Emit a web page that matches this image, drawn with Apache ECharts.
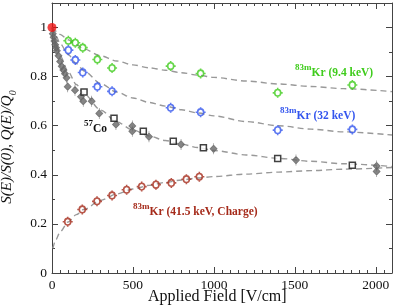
<!DOCTYPE html>
<html><head><meta charset="utf-8">
<script src="https://cdn.jsdelivr.net/npm/echarts@6/dist/echarts.min.js"></script>
<style>html,body{margin:0;padding:0;background:#fff}#c{width:399px;height:308px}</style>
</head><body><div id="c"></div>
<script>
// ---- data ----
const xTickLabels = [0, 500, 1000, 1500, 2000];
const yTickLabels = ['0', '0.2', '0.4', '0.6', '0.8', '1'];
const kr94 = [[101,0.946],[144,0.938],[190,0.918],[280,0.870],[371,0.835],[733,0.843],[918,0.813],[1394,0.734],[1855,0.766]];
const kr32 = [[101,0.908],[144,0.868],[190,0.817],[280,0.759],[371,0.740],[733,0.673],[918,0.655],[1394,0.582],[1855,0.585]];
const co57 = [[198,0.737],[383,0.630],[564,0.577],[749,0.537],[935,0.510],[1394,0.466],[1855,0.439]];
const grayS = [[5,0.975],[10,0.96],[15,0.945],[20,0.93],[25,0.918],[30,0.905],[40,0.885],[50,0.862],[60,0.842],[70,0.827],[80,0.812],[90,0.795],[97,0.759],[142,0.745],[179,0.718],[193,0.700],[245,0.700],[292,0.650],[395,0.605],[496,0.599],[496,0.578],[599,0.555],[797,0.524],[998,0.506],[1507,0.460],[2005,0.436],[2005,0.414]];
const kr415 = [[97,0.209],[187,0.259],[278,0.292],[371,0.316],[461,0.339],[554,0.352],[642,0.360],[737,0.367],[830,0.382],[910,0.392]];
const origin = [[0,1]];
const fitX  = [0, 25, 50, 100, 150, 200, 300, 400, 500, 600, 700, 800, 900, 1000, 1200, 1400, 1600, 1800, 2100];
const fit94 = [1, 0.985, 0.972, 0.950, 0.930, 0.912, 0.885, 0.864, 0.848, 0.836, 0.826, 0.816, 0.806, 0.797, 0.782, 0.770, 0.760, 0.751, 0.739];
const fit32 = [1, 0.965, 0.935, 0.890, 0.853, 0.822, 0.772, 0.737, 0.713, 0.695, 0.680, 0.665, 0.652, 0.640, 0.617, 0.600, 0.586, 0.575, 0.562];
const fitCo = [1, 0.930, 0.885, 0.820, 0.768, 0.728, 0.664, 0.615, 0.583, 0.558, 0.540, 0.525, 0.511, 0.499, 0.481, 0.467, 0.455, 0.445, 0.434];
const fitQX = [5, 25, 50, 100, 150, 200, 300, 400, 500, 600, 700, 800, 900, 1000, 1200, 1400, 1600, 1800, 2100];
const fitQ  = [0.100, 0.137, 0.168, 0.208, 0.238, 0.260, 0.296, 0.322, 0.342, 0.357, 0.369, 0.379, 0.387, 0.393, 0.403, 0.411, 0.417, 0.423, 0.430];

const SERIF = '"Liberation Serif","DejaVu Serif",serif';
const AX = '#444';
const cGreen = '#3fcc1c', cBlue = '#3355ee', cRed = '#a52a1a', cGray = '#666', cBlack = '#111';
const crossCircle = 'path://M2,5 A3,3 0 1,1 8,5 A3,3 0 1,1 2,5 Z M0,5 L2,5 M8,5 L10,5 M5,0.5 L5,2 M5,8 L5,9.5';
const diamondBar = 'path://M3,0 L3,2 L5.5,6 L3,10 L3,12 L3,10 L0.5,6 L3,2 Z';

function xAx(pos, interval, len, labels, line) {
  return {type:'value', position:pos, min:0, max:2100, interval:interval,
    axisLine:{show:line, onZero:false, lineStyle:{color:AX, width:1}},
    axisTick:{show:true, inside:true, length:len, lineStyle:{color:AX}},
    axisLabel:{show:labels, showMaxLabel:false, color:cBlack, fontFamily:SERIF, fontSize:13.5, margin:5,
      formatter: v => xTickLabels.indexOf(v) >= 0 ? String(v) : ''},
    splitLine:{show:false}};
}
function yAx(pos, interval, len, labels, line) {
  return {type:'value', position:pos, min:0, max:1.1, interval:interval,
    axisLine:{show:line, onZero:false, lineStyle:{color:AX, width:1}},
    axisTick:{show:true, inside:true, length:len, lineStyle:{color:AX}},
    axisLabel:{show:labels, showMaxLabel:false, color:cBlack, fontFamily:SERIF, fontSize:13.5, margin:5,
      formatter: v => { const i = Math.round(v/0.2); return Math.abs(v - i*0.2) < 1e-6 && i < yTickLabels.length ? yTickLabels[i] : ''; }},
    splitLine:{show:false}};
}

const zip = (xs, ys) => xs.map((x, i) => [x, ys[i]]);
function fitLine(d){ return {type:'line', data:d, xAxisIndex:0, yAxisIndex:0, smooth:0.3, smoothMonotone:'x', showSymbol:false, silent:true,
  lineStyle:{color:'#999', width:1.4, type:[6,4]}, z:1}; }
function pts(d, sym, size, col, fill, bw){ return {type:'scatter', data:d, xAxisIndex:0, yAxisIndex:0, symbol:sym, symbolSize:size, clip:false,
  itemStyle:{color:fill, borderColor:col, borderWidth:bw}, z:3}; }
function lab(x, y, sup, main, col){
  return {type:'text', x:x, y:y, z:10, style:{text:'{s|'+sup+'}{m|'+main+'}', verticalAlign:'middle',
    rich:{s:{fontFamily:SERIF, fontWeight:'bold', fontSize:9, fill:col, verticalAlign:'top', lineHeight:16},
          m:{fontFamily:SERIF, fontWeight:'bold', fontSize:11.5, fill:col, verticalAlign:'bottom', lineHeight:16}}}};
}

const chart = echarts.init(document.getElementById('c'), null, {renderer:'canvas'});
chart.setOption({
  animation:false,
  grid:{left:52, right:7, top:3, bottom:35, containLabel:false},
  xAxis:[xAx('bottom',500,6,true,true), xAx('bottom',50,3,false,false), xAx('top',500,6,false,true), xAx('top',50,3,false,false)],
  yAxis:[yAx('left',0.2,6,true,true), yAx('left',0.1,3,false,false), yAx('right',0.2,6,false,true), yAx('right',0.1,3,false,false)],
  series:[
    fitLine(zip(fitX, fit94)), fitLine(zip(fitX, fit32)), fitLine(zip(fitX, fitCo)), fitLine(zip(fitQX, fitQ)),
    pts(grayS, diamondBar, [7,11], cGray, cGray, 0.8),
    pts(co57, 'rect', 6, cBlack, '#fff', 1.5),
    pts(kr94, crossCircle, 10, cGreen, 'rgba(255,255,255,0)', 1.6),
    pts(kr32, crossCircle, 10, cBlue, 'rgba(255,255,255,0)', 1.6),
    pts(kr415, crossCircle, 10, cRed, 'rgba(255,255,255,0)', 1.6),
    {type:'scatter', data:origin, symbol:'circle', symbolSize:9, clip:false, itemStyle:{color:'#ee1111'}, z:4}
  ],
  graphic:[
    {type:'text', left:148, top:289, style:{text:'Applied Field [V/cm]', font:'16px '+SERIF, fill:cBlack}},
    {type:'text', x:6, y:147, rotation:Math.PI/2, style:{text:'{i|S(E)/S(0), Q(E)/Q}{s|0}', align:'center', verticalAlign:'middle',
      rich:{i:{fontFamily:SERIF, fontStyle:'italic', fontSize:15, fill:cBlack, lineHeight:18, verticalAlign:'bottom'},
            s:{fontFamily:SERIF, fontStyle:'italic', fontSize:10, fill:cBlack, verticalAlign:'bottom', padding:[0,0,-3,0]}}}},
    lab(295, 71, '83m', 'Kr (9.4 keV)', cGreen),
    lab(280, 114, '83m', 'Kr (32 keV)', cBlue),
    lab(84, 127, '57', 'Co', cBlack),
    lab(133, 210, '83m', 'Kr (41.5 keV, Charge)', cRed)
  ]
});
</script></body></html>
